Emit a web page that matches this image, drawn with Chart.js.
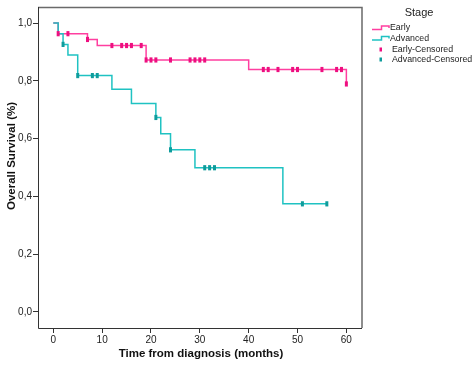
<!DOCTYPE html>
<html>
<head>
<meta charset="utf-8">
<script src="https://cdn.jsdelivr.net/npm/chart.js@4/dist/chart.umd.min.js"></script>
<style>
  html, body { margin: 0; padding: 0; background: #fff; }
  #wrap { width: 472px; height: 367px; position: relative; }
</style>
</head>
<body>
<div id="wrap"><canvas id="c" width="472" height="367"></canvas></div>
<script>
// ---- Data ----
const seriesNames = ['Early', 'Advanced'];
const legendTitle = 'Stage';
const legendLabels = ['Early', 'Advanced', 'Early-Censored', 'Advanced-Censored'];

// Kaplan-Meier steps: time (months) and survival at that time
const earlyTimes    = [0, 1, 7, 9, 19, 40, 60];
const earlySurv     = [1.0, 0.963, 0.943, 0.922, 0.872, 0.839, 0.789];
const advancedTimes = [0, 1, 2, 3, 5, 12, 16, 21, 22, 24, 29, 47, 56];
const advancedSurv  = [1.0, 0.963, 0.926, 0.889, 0.818, 0.771, 0.721, 0.673, 0.617, 0.561, 0.499, 0.374, 0.374];

// Censored observations
const earlyCensTimes = [1, 3, 7, 12, 14, 15, 16, 18, 19, 20, 21, 24, 28, 29, 30, 31, 43, 44, 46, 49, 50, 55, 58, 59, 60];
const earlyCensSurv  = [0.963, 0.963, 0.943, 0.922, 0.922, 0.922, 0.922, 0.922, 0.872, 0.872, 0.872, 0.872, 0.872, 0.872, 0.872, 0.872, 0.839, 0.839, 0.839, 0.839, 0.839, 0.839, 0.839, 0.839, 0.789];
const advCensTimes   = [2, 5, 8, 9, 21, 24, 31, 32, 33, 51, 56];
const advCensSurv    = [0.926, 0.818, 0.818, 0.818, 0.673, 0.561, 0.499, 0.499, 0.499, 0.374, 0.374];

const xTicks = [0, 10, 20, 30, 40, 50, 60];
const yTicks = [0, 0.2, 0.4, 0.6, 0.8, 1.0];
const yTickLabels = ['0,0', '0,2', '0,4', '0,6', '0,8', '1,0'];
const xTitle = 'Time from diagnosis (months)';
const yTitle = 'Overall Survival (%)';

// ---- Styles ----
const pinkLine = '#ff3fa0';
const pinkMark = '#ee0f80';
const tealLine = '#1fc2c2';
const tealMark = '#0e9c9c';

const zip = (xs, ys) => xs.map((x, i) => ({ x: x, y: ys[i] }));

const censorStyle = {
  showLine: false,
  pointStyle: 'line',
  rotation: 90,
  pointRadius: 2.6,
  pointHoverRadius: 2.6,
  pointBorderWidth: 3,
};

const framePlugin = {
  id: 'frameAndText',
  afterDraw(chart) {
    const { ctx, chartArea: a } = chart;
    ctx.save();
    // frame
    ctx.strokeStyle = '#6a6a6a';
    ctx.lineWidth = 1.5;
    ctx.beginPath();
    ctx.moveTo(a.left, a.top + 0.5);
    ctx.lineTo(a.right, a.top + 0.5);
    ctx.lineTo(a.right, a.bottom);
    ctx.stroke();
    ctx.strokeStyle = '#333';
    ctx.lineWidth = 1;
    ctx.beginPath();
    ctx.moveTo(a.left + 0.5, a.top);
    ctx.lineTo(a.left + 0.5, a.bottom + 0.5);
    ctx.lineTo(a.right, a.bottom + 0.5);
    ctx.stroke();

    // axis titles
    ctx.fillStyle = '#111';
    ctx.font = 'bold 11.5px "Liberation Sans", Arial, sans-serif';
    ctx.textAlign = 'center';
    ctx.textBaseline = 'middle';
    ctx.fillText(xTitle, 201, 354);
    ctx.save();
    ctx.translate(12, 156);
    ctx.rotate(-Math.PI / 2);
    ctx.fillText(yTitle, 0, 0);
    ctx.restore();

    // legend
    ctx.font = '11px "Liberation Sans", Arial, sans-serif';
    ctx.textAlign = 'center';
    ctx.fillStyle = '#222';
    ctx.fillText(legendTitle, 419, 13);
    ctx.font = '8.8px "Liberation Sans", Arial, sans-serif';
    ctx.textAlign = 'left';
    const lineCols = [pinkLine, tealLine];
    const markCols = [pinkMark, tealMark];
    const rowsY = [28, 38.5, 49.5, 59.5];
    for (let i = 0; i < 2; i++) {
      const y = rowsY[i];
      ctx.strokeStyle = lineCols[i];
      ctx.lineWidth = 1.5;
      ctx.beginPath();
      ctx.moveTo(372, y + 1.5);
      ctx.lineTo(381.5, y + 1.5);
      ctx.lineTo(381.5, y - 2);
      ctx.lineTo(389, y - 2);
      ctx.lineTo(389, y);
      ctx.stroke();
      ctx.fillStyle = '#222';
      ctx.fillText(legendLabels[i], 390, y);
    }
    for (let i = 0; i < 2; i++) {
      const y = rowsY[i + 2];
      ctx.fillStyle = markCols[i];
      ctx.fillRect(379.5, y - 2, 2.5, 4);
      ctx.fillStyle = '#222';
      ctx.fillText(legendLabels[i + 2], 392, y);
    }
    ctx.restore();
  }
};

new Chart(document.getElementById('c'), {
  type: 'scatter',
  data: {
    datasets: [
      Object.assign({ label: legendLabels[2], data: zip(earlyCensTimes, earlyCensSurv),
        pointBackgroundColor: pinkMark, pointBorderColor: pinkMark, order: 1 }, censorStyle),
      Object.assign({ label: legendLabels[3], data: zip(advCensTimes, advCensSurv),
        pointBackgroundColor: tealMark, pointBorderColor: tealMark, order: 0 }, censorStyle),
      { label: seriesNames[1], data: zip(advancedTimes, advancedSurv), showLine: true, stepped: 'before',
        borderColor: tealLine, borderWidth: 1.5, pointRadius: 0, pointHoverRadius: 0, fill: false, order: 2 },
      { label: seriesNames[0], data: zip(earlyTimes, earlySurv), showLine: true, stepped: 'before',
        borderColor: pinkLine, borderWidth: 1.5, pointRadius: 0, pointHoverRadius: 0, fill: false, order: 3 },
    ]
  },
  options: {
    responsive: false,
    animation: false,
    events: [],
    layout: { padding: { left: 0, right: 110, top: 2, bottom: 0 } },
    plugins: { legend: { display: false }, tooltip: { enabled: false } },
    scales: {
      x: {
        type: 'linear',
        min: -3.13, max: 63.2,
        afterBuildTicks: (s) => { s.ticks = xTicks.map(v => ({ value: v })); },
        afterFit: (s) => { s.height = 39; },
        ticks: { color: '#222', font: { size: 10, family: '"Liberation Sans", Arial, sans-serif' }, padding: 1,
                 maxRotation: 0, autoSkip: false, callback: (v) => String(v) },
        grid: { drawOnChartArea: false, drawTicks: true, tickLength: 5, color: '#333' },
        border: { display: false },
      },
      y: {
        type: 'linear',
        min: -0.0558, max: 1.0554,
        afterBuildTicks: (s) => { s.ticks = yTicks.map(v => ({ value: v })); },
        afterFit: (s) => { s.width = 38; },
        ticks: { color: '#222', font: { size: 10, family: '"Liberation Sans", Arial, sans-serif' }, padding: 1,
                 autoSkip: false,
                 callback: (v) => { const i = yTicks.findIndex(t => Math.abs(t - v) < 1e-6); return i >= 0 ? yTickLabels[i] : ''; } },
        grid: { drawOnChartArea: false, drawTicks: true, tickLength: 5, color: '#333' },
        border: { display: false },
      }
    }
  },
  plugins: [framePlugin]
});
</script>
</body>
</html>
